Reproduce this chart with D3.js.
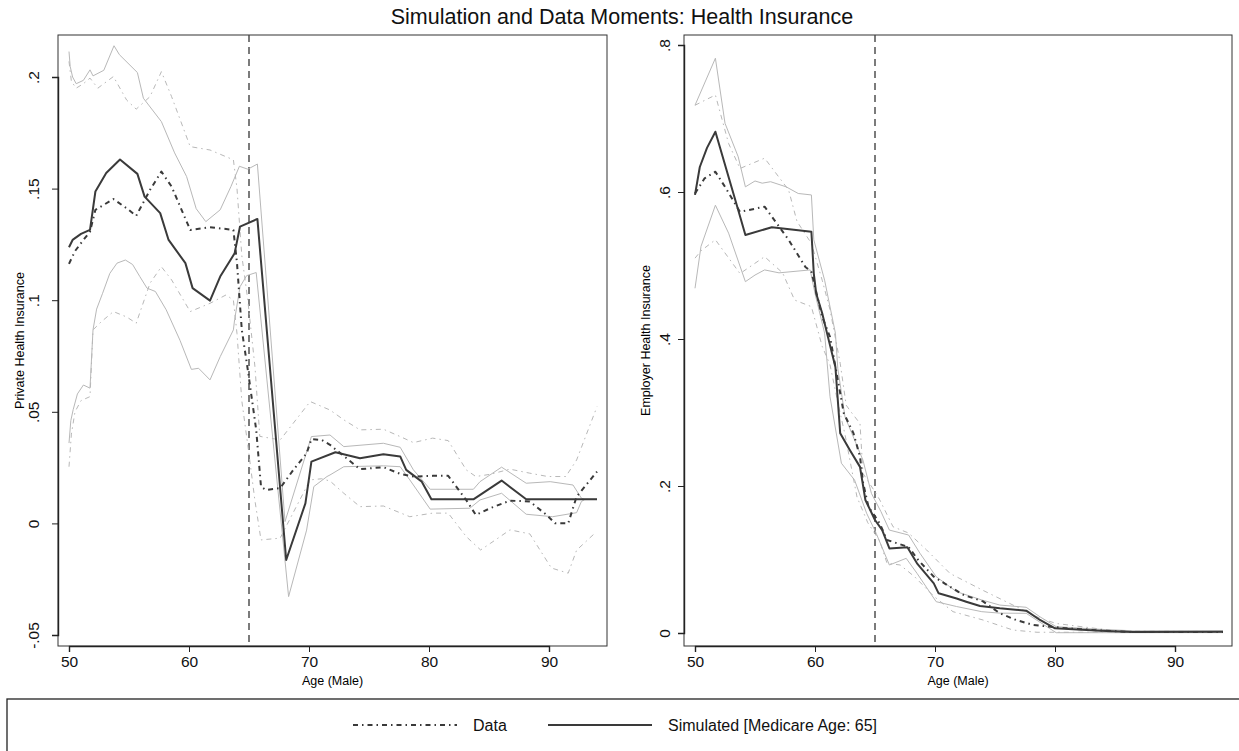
<!DOCTYPE html>
<html>
<head>
<meta charset="utf-8">
<script src="https://cdn.jsdelivr.net/npm/d3@7"></script>
<style>
  body { margin: 0; background: #fff; }
  svg { display: block; font-family: "Liberation Sans", Arial, sans-serif; }
</style>
</head>
<body>
<svg id="chart" width="1239" height="751"></svg>
<script>
// ----- Data (age, share) ----------------------------------------------------
var MEDICARE_AGE = 65;
var AGE_TICKS = [50, 60, 70, 80, 90];
var PRIV_TICKS = [-0.05, 0, 0.05, 0.1, 0.15, 0.2];
var EMP_TICKS = [0, 0.2, 0.4, 0.6, 0.8];

var PRIV_DATA = [[50,0.1163],[50.5,0.122],[51.2,0.127],[51.75,0.1307],[52.2,0.1405],[53.7,0.1453],[54.8,0.1412],[55.6,0.1378],[56.75,0.1494],[57.7,0.1576],[58.55,0.1509],[60.1,0.1315],[61.75,0.1327],[63.7,0.1315],[64,0.1166],[64.4,0.0867],[64.9,0.0688],[65.6,0.0419],[66,0.0165],[66.4,0.015],[67.6,0.0158],[68.7,0.024],[69.8,0.0314],[70.2,0.0377],[71.05,0.0374],[71.75,0.0352],[74.25,0.0243],[76.2,0.0252],[77.6,0.0222],[78.7,0.021],[80.3,0.0213],[81.6,0.0213],[83.1,0.0105],[83.9,0.0038],[85.1,0.0068],[86.75,0.0102],[88.4,0.0098],[89.8,0.0038],[90.5,0.0001],[91.6,0],[92.3,0.012],[94,0.0232]];
var PRIV_DATA_HI = [[50,0.207],[50.2,0.198],[50.6,0.195],[51.2,0.197],[51.75,0.1995],[52.4,0.195],[53.7,0.2002],[54.8,0.1897],[55.6,0.1856],[56.75,0.1912],[57.7,0.2024],[58.55,0.1912],[60.1,0.1688],[61.75,0.1673],[63.7,0.1629],[64,0.15],[64.4,0.12],[64.9,0.1],[65.5,0.07],[65.9,0.039],[67.6,0.0374],[70.1,0.0546],[71.75,0.0508],[72.9,0.0464],[74.25,0.0419],[76.2,0.0422],[77.6,0.0389],[78.7,0.0362],[80.3,0.0382],[81.6,0.0371],[83.1,0.024],[83.9,0.021],[85.1,0.022],[86.75,0.0243],[88.4,0.0225],[89.9,0.021],[91.4,0.021],[92.3,0.0284],[94,0.0523]];
var PRIV_DATA_LO = [[50,0.0254],[50.2,0.04],[50.5,0.05],[51,0.055],[51.75,0.0568],[52,0.0867],[52.7,0.0904],[53.7,0.0949],[54.8,0.0925],[55.6,0.0897],[56.75,0.1076],[57.7,0.115],[58.55,0.1091],[60.1,0.0949],[61.75,0.0986],[63.1,0.1024],[63.7,0.1],[64,0.085],[64.4,0.055],[64.9,0.035],[65.5,0.01],[66,-0.0074],[67.6,-0.0066],[68.7,0.005],[70.1,0.0195],[71.05,0.02],[71.75,0.019],[72.9,0.0135],[74.25,0.0075],[76.2,0.0078],[78.4,0.003],[80.3,0.0046],[81.6,0.0046],[83.1,-0.0059],[84.3,-0.0119],[85.1,-0.009],[86.75,-0.0029],[88.4,-0.0047],[90.2,-0.02],[91.6,-0.0223],[92.3,-0.012],[93.9,-0.004]];
var PRIV_SIM = [[50,0.1237],[50.3,0.127],[51,0.1297],[51.75,0.1315],[52.2,0.1487],[53.1,0.157],[54.25,0.163],[55.7,0.1566],[56.3,0.1464],[57.6,0.139],[58.3,0.127],[59.7,0.1166],[60.3,0.1054],[61.75,0.0998],[62.6,0.1106],[63.8,0.121],[64.25,0.133],[65.7,0.1364],[68.1,-0.0164],[69.7,0.009],[70.2,0.0277],[72.2,0.0319],[74.25,0.0292],[76.2,0.031],[77.6,0.03],[78.1,0.024],[79.4,0.0187],[80.2,0.0108],[83.7,0.0108],[86.05,0.0192],[88.1,0.0108],[94,0.0108]];
var PRIV_SIM_HI = [[50,0.2114],[50.1,0.2047],[50.3,0.2],[50.6,0.197],[51.2,0.1985],[51.75,0.2032],[52,0.2005],[52.9,0.203],[53.75,0.214],[54.2,0.21],[55.7,0.202],[56.2,0.1905],[57.7,0.18],[58.8,0.166],[59.8,0.1554],[60.6,0.141],[61.4,0.1352],[62.6,0.1405],[63.5,0.151],[64.2,0.16],[64.9,0.1587],[65.7,0.161],[68,0.0008],[70.2,0.0389],[71.75,0.0396],[72.9,0.0344],[76.2,0.0359],[77.6,0.0341],[78.7,0.024],[80.1,0.0153],[83.7,0.0153],[84.25,0.0187],[86.05,0.0252],[88.1,0.018],[90.1,0.0187],[92,0.0172],[92.7,0.0113],[93,0.0108],[94,0.0108]];
var PRIV_SIM_LO = [[50,0.036],[50.15,0.046],[50.35,0.051],[50.7,0.058],[51.2,0.062],[51.75,0.0606],[52,0.0867],[52.3,0.096],[52.8,0.1031],[53.4,0.112],[54,0.1166],[54.7,0.118],[55.3,0.116],[55.9,0.1106],[56.5,0.1054],[57.2,0.1039],[58.1,0.0957],[59.25,0.082],[60.2,0.069],[60.8,0.0695],[61.75,0.0643],[62.6,0.0747],[63.7,0.0867],[63.8,0.0912],[64.25,0.106],[64.8,0.111],[65.6,0.1124],[68.3,-0.0328],[69.8,-0.003],[70.4,0.0165],[71.5,0.021],[71.75,0.0217],[72.9,0.0254],[76.2,0.0258],[77.6,0.0254],[78.4,0.0195],[80.1,0.0064],[83.4,0.0068],[84.25,0.0105],[86.05,0.0135],[88.1,0.0041],[90.3,0.003],[92.3,0.0048],[92.7,0.0098],[93,0.0108],[94,0.0108]];

var EMP_DATA = [[50,0.598],[50.8,0.6186],[51.7,0.6276],[52.5,0.607],[53.75,0.573],[55.8,0.58],[57.8,0.535],[59.2,0.498],[59.7,0.4916],[60.6,0.43],[61.25,0.403],[61.95,0.34],[62.4,0.299],[63.2,0.272],[63.75,0.24],[64,0.205],[64.45,0.172],[65.4,0.149],[66,0.1265],[67.8,0.117],[68.6,0.0993],[69.9,0.0766],[71,0.0653],[72.4,0.0517],[74,0.043],[75.4,0.027],[76.75,0.0177],[78.2,0.0109],[79.3,0.009],[81,0.0064],[83.75,0.0035],[86,0.0015],[94,0.0015]];
var EMP_DATA_HI = [[50,0.718],[51.7,0.732],[52.8,0.666],[53.75,0.632],[55.8,0.646],[57.8,0.6027],[58.5,0.56],[59.7,0.53],[60.6,0.48],[61.25,0.44],[62.1,0.367],[62.6,0.31],[62.9,0.303],[63.75,0.285],[64,0.217],[64.9,0.1946],[65.4,0.181],[66.5,0.1446],[67.8,0.136],[69.3,0.113],[71.25,0.081],[74,0.058],[76.25,0.04],[78.75,0.02],[80.1,0.013],[82,0.009],[85,0.003],[94,0.002]];
var EMP_DATA_LO = [[50,0.51],[50.5,0.52],[51.7,0.535],[53.75,0.489],[55.8,0.512],[57.3,0.49],[58.3,0.453],[59.7,0.444],[60.6,0.39],[61.25,0.365],[61.95,0.31],[62.5,0.27],[63.5,0.185],[64.4,0.15],[65.4,0.125],[66,0.095],[67.1,0.0925],[68.3,0.0766],[69.9,0.05],[71.5,0.029],[74,0.0177],[76.5,0.004],[78.5,0.001],[94,0.001]];
var EMP_SIM = [[50,0.596],[50.4,0.634],[51,0.66],[51.7,0.682],[53.6,0.5755],[54.2,0.5415],[56.4,0.552],[59.7,0.546],[59.9,0.489],[60.1,0.462],[60.6,0.435],[61,0.408],[61.7,0.362],[62.1,0.2717],[62.9,0.249],[63.75,0.226],[64.2,0.181],[65,0.1537],[65.6,0.14],[66.2,0.115],[67.7,0.1166],[68.5,0.0948],[69.9,0.0676],[70.3,0.054],[71.8,0.047],[72.6,0.0426],[73.75,0.0367],[75.4,0.0336],[77.6,0.0304],[78.75,0.0177],[80,0.0064],[83.75,0.0032],[86.5,0.0014],[94,0.0018]];
var EMP_SIM_HI = [[50,0.718],[51.7,0.782],[52.5,0.6935],[53.6,0.648],[54.2,0.607],[55,0.615],[55.6,0.612],[56.3,0.614],[57.6,0.607],[58.6,0.598],[59.7,0.596],[59.9,0.535],[60.8,0.48],[61.7,0.408],[61.9,0.36],[62.5,0.294],[63.3,0.2626],[64,0.235],[64.7,0.19],[65.5,0.165],[66.2,0.14],[67.8,0.1333],[68.75,0.1084],[70.1,0.0766],[71.8,0.0562],[73.9,0.0449],[75.4,0.038],[77.6,0.035],[78.75,0.022],[80.1,0.0086],[83.75,0.005],[86.5,0.003],[94,0.003]];
var EMP_SIM_LO = [[50,0.469],[50.5,0.526],[51.7,0.582],[52.8,0.544],[54.2,0.478],[55,0.487],[55.8,0.494],[57,0.49],[59.6,0.494],[60,0.462],[60.8,0.408],[61.25,0.3215],[62.2,0.231],[63.3,0.208],[64.3,0.163],[65.1,0.1356],[66.2,0.0925],[67.6,0.1016],[68.5,0.0812],[70.1,0.0426],[71.8,0.036],[73.9,0.029],[75.4,0.027],[77.6,0.0268],[80.1,0.0004],[94,0.0005]];

var DARK = '#3a3a3a';
var LIGHT = '#b8b8b8';
var DASHDOT = '5,4,1.5,4';
var SVG = d3.select('#chart');

// Stata style tick labels: .2, -.05, 0
function stataNum(d) {
  if (d === 0) return '0';
  return d3.format('~g')(d).replace('\u2212', '-').replace('0.', '.');
}

function drawPanel(p) {
  var x = d3.scaleLinear().domain([50, 90]).range([p.left + 11, p.left + 491]);
  var y = d3.scaleLinear().domain(p.yDomain).range(p.yRange);
  var top = 35, bottom = 646, right = p.right;
  var g = SVG.append('g');

  // frame
  g.append('rect')
      .attr('x', p.left).attr('y', top)
      .attr('width', right - p.left).attr('height', bottom - top)
      .attr('fill', 'none').attr('stroke', '#333').attr('stroke-width', 1);

  // axes
  var xAxis = g.append('g')
      .attr('transform', 'translate(0,' + bottom + ')')
      .call(d3.axisBottom(x).tickValues(AGE_TICKS).tickSize(6).tickPadding(4));
  xAxis.selectAll('text').attr('font-size', 15.5).attr('fill', '#111')
      .attr('font-family', '"Liberation Sans", Arial, sans-serif');

  var yAxis = g.append('g')
      .attr('transform', 'translate(' + p.left + ',0)')
      .call(d3.axisLeft(y).tickValues(p.ticks).tickSize(6).tickFormat(stataNum));
  yAxis.selectAll('text')
      .attr('x', null).attr('dy', null)
      .attr('text-anchor', 'middle')
      .attr('transform', 'translate(' + (-p.labelOff) + ',0) rotate(-90)')
      .attr('font-size', 15.5).attr('fill', '#111')
      .attr('font-family', '"Liberation Sans", Arial, sans-serif');
  g.selectAll('.domain').attr('stroke', '#222').attr('stroke-width', 1.4);
  g.selectAll('.tick line').attr('stroke', '#222');

  g.append('text')
      .attr('x', (p.left + right) / 2).attr('y', 685)
      .attr('text-anchor', 'middle').attr('font-size', 12.5)
      .text('Age (Male)');
  g.append('text')
      .attr('transform', 'translate(' + (p.left - 34) + ',' + ((top + bottom) / 2) + ') rotate(-90)')
      .attr('text-anchor', 'middle').attr('font-size', 12.5)
      .text(p.yTitle);

  // medicare line
  g.append('line')
      .attr('x1', x(MEDICARE_AGE)).attr('x2', x(MEDICARE_AGE))
      .attr('y1', top).attr('y2', bottom)
      .attr('stroke', '#444').attr('stroke-width', 1.4)
      .attr('stroke-dasharray', '7,5');

  var line = d3.line().x((d) => x(d[0])).y((d) => y(d[1]));
  var series = [
    { d: p.dataHi, c: LIGHT, w: 1, dash: DASHDOT },
    { d: p.dataLo, c: LIGHT, w: 1, dash: DASHDOT },
    { d: p.simHi, c: LIGHT, w: 1, dash: null },
    { d: p.simLo, c: LIGHT, w: 1, dash: null },
    { d: p.data, c: DARK, w: 2, dash: DASHDOT },
    { d: p.sim, c: DARK, w: 2, dash: null }
  ];
  g.selectAll('.series')
      .data(series)
    .enter().append('path')
      .attr('class', 'series')
      .attr('d', (s) => line(s.d))
      .attr('fill', 'none')
      .attr('stroke', (s) => s.c)
      .attr('stroke-width', (s) => s.w)
      .attr('stroke-linejoin', 'round')
      .attr('stroke-dasharray', (s) => s.dash);
}

SVG.append('text')
    .attr('x', 622).attr('y', 24)
    .attr('text-anchor', 'middle').attr('font-size', 21.5).attr('fill', '#111')
    .text('Simulation and Data Moments: Health Insurance');

drawPanel({
  left: 58, right: 607, yDomain: [-0.05, 0.2], yRange: [635, 77],
  ticks: PRIV_TICKS, labelOff: 19, yTitle: 'Private Health Insurance',
  data: PRIV_DATA, dataHi: PRIV_DATA_HI, dataLo: PRIV_DATA_LO,
  sim: PRIV_SIM, simHi: PRIV_SIM_HI, simLo: PRIV_SIM_LO
});
drawPanel({
  left: 684, right: 1232, yDomain: [0, 0.8], yRange: [633, 45],
  ticks: EMP_TICKS, labelOff: 14, yTitle: 'Employer Health Insurance',
  data: EMP_DATA, dataHi: EMP_DATA_HI, dataLo: EMP_DATA_LO,
  sim: EMP_SIM, simHi: EMP_SIM_HI, simLo: EMP_SIM_LO
});

// ----- Legend ---------------------------------------------------------------
var legend = SVG.append('g');
legend.append('rect')
    .attr('x', 7).attr('y', 699).attr('width', 1250).attr('height', 56)
    .attr('fill', 'none').attr('stroke', '#222').attr('stroke-width', 1.3);
var items = [
  { label: 'Data', x: 353, dash: DASHDOT },
  { label: 'Simulated [Medicare Age: 65]', x: 548, dash: null }
];
items.forEach(function(it) {
  legend.append('line')
      .attr('x1', it.x).attr('x2', it.x + 104)
      .attr('y1', 725).attr('y2', 725)
      .attr('stroke', DARK).attr('stroke-width', 2)
      .attr('stroke-dasharray', it.dash);
  legend.append('text')
      .attr('x', it.x + 120).attr('y', 731)
      .attr('font-size', 16).attr('fill', '#111')
      .text(it.label);
});
</script>
</body>
</html>
